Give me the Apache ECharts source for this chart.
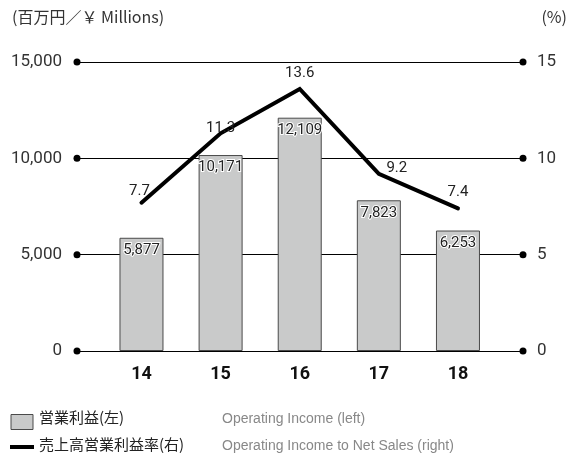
<!DOCTYPE html>
<html>
<head>
<meta charset="utf-8">
<script src="https://cdn.jsdelivr.net/npm/echarts@6/dist/echarts.min.js"></script>
<style>
html,body{margin:0;padding:0;background:#fff;}
#chart{width:578px;height:460px;}
</style>
</head>
<body>
<div id="chart"></div>
<script>
var categories = ['14', '15', '16', '17', '18'];
var operatingIncome = [5877, 10171, 12109, 7823, 6253];
var operatingMargin = [7.7, 11.3, 13.6, 9.2, 7.4];
var leftTicks = [0, 5000, 10000, 15000];
var marginLabelOffsets = [[-2, -11], [0, -5], [0, -16], [18, -5], [0, -16]];

var chart = echarts.init(document.getElementById('chart'));
var narrow = 'Roboto, sans-serif';
var cjk = '"Noto Sans CJK JP", "Noto Sans", sans-serif';

var option = {
  animation: false,
  grid: { left: 77, right: 55, top: 62, bottom: 109 },
  xAxis: {
    type: 'value',
    min: -0.815,
    max: 4.822,
    axisLine: { show: false },
    axisTick: { show: false },
    splitLine: { show: false },
    axisLabel: {
      customValues: categories.map(function (c, i) { return i; }),
      formatter: function (v) { return categories[Math.round(v)]; },
      margin: 14,
      fontFamily: narrow,
      fontWeight: 'bold',
      fontSize: 18,
      color: '#111'
    }
  },
  yAxis: [
    {
      type: 'value', min: 0, max: 15000, interval: 5000,
      axisLine: { show: false }, axisTick: { show: false }, splitLine: { show: false },
      axisLabel: {
        margin: 15, fontFamily: 'Roboto, sans-serif', fontSize: 17, color: '#333',
        formatter: function (v) { return v.toLocaleString('en-US'); }
      }
    },
    {
      type: 'value', min: 0, max: 15, interval: 5,
      axisLine: { show: false }, axisTick: { show: false }, splitLine: { show: false },
      axisLabel: { margin: 14, fontFamily: 'Roboto, sans-serif', fontSize: 17, color: '#333' }
    }
  ],
  series: [
    {
      type: 'bar',
      yAxisIndex: 0,
      barWidth: 44,
      z: 2,
      data: operatingIncome.map(function (v, i) { return [i, v]; }),
      itemStyle: { color: '#c9caca', borderColor: '#4a4a4a', borderWidth: 1 },
      label: {
        show: true,
        position: 'insideTop',
        distance: 5,
        fontFamily: narrow,
        fontSize: 15,
        color: '#222',
        textBorderColor: '#fff',
        textBorderWidth: 2,
        formatter: function (p) { return p.value[1].toLocaleString('en-US'); }
      },
      markLine: {
        silent: true,
        z: 1,
        symbol: ['circle', 'circle'],
        symbolSize: 7,
        label: { show: false },
        lineStyle: { color: '#000', width: 1, type: 'solid' },
        emphasis: { disabled: true },
        data: leftTicks.map(function (t) { return { yAxis: t }; })
      }
    },
    {
      type: 'line',
      yAxisIndex: 1,
      z: 5,
      symbol: 'circle',
      symbolSize: 1,
      itemStyle: { color: 'rgba(0,0,0,0)' },
      lineStyle: { color: '#000', width: 4, cap: 'round', join: 'miter' },
      data: operatingMargin.map(function (v, i) {
        return {
          value: [i, v],
          label: { offset: marginLabelOffsets[i] }
        };
      }),
      label: {
        show: true,
        position: 'inside',
        fontFamily: narrow,
        fontSize: 15,
        color: '#222',
        formatter: function (p) { return p.value[1].toFixed(1); }
      }
    }
  ],
  graphic: [
    { type: 'text', left: 12, top: 9, style: { text: '(百万円／￥ Millions)', font: '16px ' + cjk, fill: '#333' } },
    { type: 'text', right: 11, top: 9, style: { text: '(%)', font: '16px ' + cjk, fill: '#333' } },
    { type: 'rect', shape: { x: 11, y: 414.5, width: 22, height: 15 }, style: { fill: '#c9caca', stroke: '#4a4a4a', lineWidth: 1 } },
    { type: 'text', left: 39, top: 410, style: { text: '営業利益(左)', font: '15px ' + cjk, fill: '#222' } },
    { type: 'rect', shape: { x: 10, y: 445, width: 24, height: 4 }, style: { fill: '#000' } },
    { type: 'text', left: 39, top: 437, style: { text: '売上高営業利益率(右)', font: '15px ' + cjk, fill: '#222' } },
    { type: 'text', left: 222, top: 412, style: { text: 'Operating Income (left)', font: '14px "Liberation Sans", Arial, sans-serif', fill: '#888' } },
    { type: 'text', left: 222, top: 439, style: { text: 'Operating Income to Net Sales (right)', font: '14px "Liberation Sans", Arial, sans-serif', fill: '#888' } }
  ]
};
chart.setOption(option);
</script>
</body>
</html>
